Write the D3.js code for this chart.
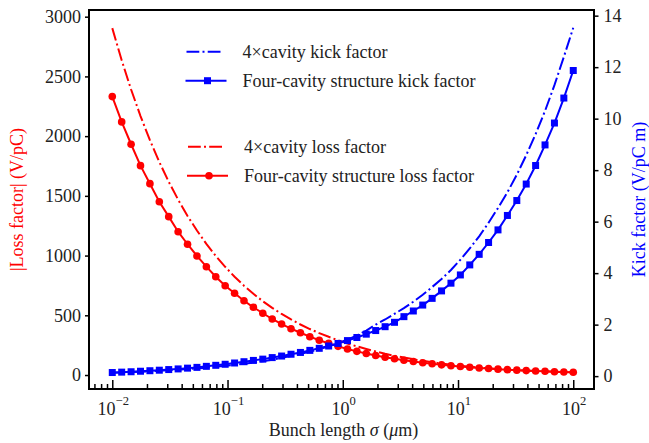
<!DOCTYPE html>
<html>
<head>
<meta charset="utf-8">
<script src="https://cdn.jsdelivr.net/npm/d3@7/dist/d3.min.js"></script>
<style>
  body { margin: 0; background: #fff; }
  text { font-family: "Liberation Serif", "Times New Roman", serif; }
</style>
</head>
<body>
<div id="chart"></div>
<script>
// bunch length values (um), 50 points log spaced 1e-2 .. 1e2
var sigma = [0.01, 0.012068, 0.014563, 0.017575, 0.021210, 0.025595, 0.030888, 0.037276, 0.044984, 0.054287,
  0.065513, 0.079060, 0.095410, 0.11514, 0.13895, 0.16768, 0.20236, 0.24421, 0.29471, 0.35565,
  0.42919, 0.51795, 0.62506, 0.75431, 0.91030, 1.0985, 1.3257, 1.5999, 1.9307, 2.3300,
  2.8118, 3.3932, 4.0949, 4.9417, 5.9636, 7.1969, 8.6851, 10.481, 12.649, 15.264,
  18.421, 22.230, 26.827, 32.375, 39.069, 47.149, 56.899, 68.665, 82.864, 100];

// |loss factor| (V/pC)
var lossStructure = [2331, 2119, 1932, 1753, 1602, 1451, 1326, 1200, 1095, 997,
  907, 823, 748, 684, 622, 567, 517, 469, 427, 388,
  354, 321, 291, 265, 240, 218, 198, 180, 164, 149,
  136, 124, 113, 103, 94, 85, 78, 71, 65, 59,
  54, 49, 45, 41, 37, 34, 31, 28, 25.5, 23];
var lossCavity = [2904, 2635, 2390, 2168, 1966, 1783, 1618, 1468, 1332, 1210,
  1098, 997, 906, 823, 748, 680, 618, 562, 511, 465,
  423, 385, 351, 320, 291, 264, 240, 218, 197, 178,
  161, 146, 132, 119, 107, 96, 86, 77, 69, 62,
  56, 50, 45, 40.5, 36.5, 33, 30, 27, 24.5, 22];

// kick factor (V/pC m)
var kickStructure = [0.14, 0.155, 0.17, 0.19, 0.21, 0.23, 0.255, 0.28, 0.31, 0.34,
  0.38, 0.42, 0.46, 0.51, 0.56, 0.61, 0.66, 0.72, 0.78, 0.85,
  0.92, 1.00, 1.08, 1.17, 1.27, 1.38, 1.50, 1.63, 1.77, 1.92,
  2.09, 2.31, 2.53, 2.76, 3.02, 3.31, 3.61, 3.93, 4.32, 4.73,
  5.19, 5.68, 6.24, 6.82, 7.46, 8.18, 8.98, 9.83, 10.8, 11.87];
var kickCavity = [0.13, 0.143, 0.157, 0.172, 0.19, 0.208, 0.228, 0.25, 0.275, 0.30,
  0.33, 0.365, 0.40, 0.44, 0.48, 0.53, 0.58, 0.64, 0.71, 0.78,
  0.86, 0.95, 1.05, 1.16, 1.28, 1.42, 1.58, 1.77, 2.0, 2.2,
  2.42, 2.64, 2.89, 3.16, 3.46, 3.77, 4.12, 4.52, 4.96, 5.43,
  5.96, 6.53, 7.14, 7.82, 8.58, 9.4, 10.3, 11.3, 12.4, 13.53];

var xTicks = [0.01, 0.1, 1, 10, 100];
var xTickExp = ["\u22122", "\u22121", "0", "1", "2"];
var lossTicks = [0, 500, 1000, 1500, 2000, 2500, 3000];
var kickTicks = [0, 2, 4, 6, 8, 10, 12, 14];

var legendKick = ["4\u00d7cavity kick factor", "Four-cavity structure kick factor"];
var legendLoss = ["4\u00d7cavity loss factor", "Four-cavity structure loss factor"];

var svgWidth = 649;
var svgHeight = 443;
var chartMargin = { top: 10, left: 89, right: 55, bottom: 54 };
var chartWidth = svgWidth - chartMargin.left - chartMargin.right;
var chartHeight = svgHeight - chartMargin.top - chartMargin.bottom;

var serif = '"Liberation Serif", "Times New Roman", serif';
var red = "#ff0000";
var blue = "#0000ff";
var dashDot = "12.8,3.2,2,3.2";

var svg = d3.select("#chart").append("svg")
  .attr("width", svgWidth)
  .attr("height", svgHeight)
  .style("font-family", serif);

var chartGroup = svg.append("g")
  .attr("transform", `translate(${chartMargin.left}, ${chartMargin.top})`);

// scales
var xScale = d3.scaleLog()
  .domain([Math.pow(10, -2.202), Math.pow(10, 2.18)])
  .range([0, chartWidth]);
var yLoss = d3.scaleLinear()
  .domain([-117, 3056])
  .range([chartHeight, 0]);
var yKick = d3.scaleLinear()
  .domain([-0.5, 14.22])
  .range([chartHeight, 0]);

// minor x ticks
var minorTicks = [];
[-3, -2, -1, 0, 1, 2].forEach(function(d) {
  for (var m = 2; m <= 9; m++) {
    var v = m * Math.pow(10, d);
    if (v > xScale.domain()[0] && v < xScale.domain()[1]) minorTicks.push(v);
  }
});

function styleAxis(g) {
  g.attr("font-family", null).style("font-family", serif);
  g.select(".domain").remove();
  g.selectAll(".tick line").attr("stroke", "#000").attr("stroke-width", 1.5);
  g.selectAll("text")
    .style("font-family", serif)
    .attr("font-size", 18)
    .attr("fill", "#222");
}

// x axis (ticks pointing inward)
chartGroup.append("g")
  .attr("transform", `translate(0, ${chartHeight})`)
  .call(d3.axisBottom(xScale).tickValues(minorTicks).tickSize(-5).tickFormat(""))
  .call(styleAxis);
chartGroup.append("g")
  .attr("transform", `translate(0, ${chartHeight})`)
  .call(d3.axisBottom(xScale).tickValues(xTicks).tickSize(-9).tickFormat(""))
  .call(styleAxis);

var xLabels = chartGroup.append("g").selectAll("text")
  .data(xTicks)
  .enter()
  .append("text")
  .attr("x", function(d) { return xScale(d) + 1; })
  .attr("y", chartHeight + 26)
  .attr("text-anchor", "middle")
  .attr("font-size", 18)
  .attr("fill", "#222")
  .style("font-family", serif);
xLabels.append("tspan").text("10");
xLabels.append("tspan")
  .attr("dy", -10.5)
  .attr("font-size", 12.6)
  .text(function(d, i) { return xTickExp[i]; });

// left y axis
chartGroup.append("g")
  .call(d3.axisLeft(yLoss).tickValues(lossTicks).tickSize(4).tickPadding(4).tickFormat(d3.format("d")))
  .call(styleAxis);

// right y axis
chartGroup.append("g")
  .attr("transform", `translate(${chartWidth}, 0)`)
  .call(d3.axisRight(yKick).tickValues(kickTicks).tickSize(4.5).tickPadding(5).tickFormat(d3.format("d")))
  .call(styleAxis);

// frame
chartGroup.append("rect")
  .attr("width", chartWidth)
  .attr("height", chartHeight)
  .attr("fill", "none")
  .attr("stroke", "#000")
  .attr("stroke-width", 2);

// axis titles
svg.append("text")
  .attr("transform", `translate(23, ${chartMargin.top + chartHeight / 2}) rotate(-90)`)
  .attr("text-anchor", "middle")
  .attr("font-size", 18)
  .attr("fill", red)
  .text("|Loss factor| (V/pC)");

svg.append("text")
  .attr("transform", `translate(645, ${chartMargin.top + chartHeight / 2}) rotate(-90)`)
  .attr("text-anchor", "middle")
  .attr("font-size", 18)
  .attr("fill", blue)
  .text("Kick factor (V/pC m)");

var xTitle = svg.append("text")
  .attr("x", chartMargin.left + chartWidth / 2 + 2)
  .attr("y", 436)
  .attr("text-anchor", "middle")
  .attr("font-size", 18)
  .attr("fill", "#222");
xTitle.append("tspan").text("Bunch length ");
xTitle.append("tspan").attr("font-style", "italic").text("\u03c3");
xTitle.append("tspan").text(" (");
xTitle.append("tspan").attr("font-style", "italic").text("\u03bc");
xTitle.append("tspan").text("m)");

// curves
var kickData = sigma.map(function(s, i) { return { s: s, st: kickStructure[i], cav: kickCavity[i] }; });
var lossData = sigma.map(function(s, i) { return { s: s, st: lossStructure[i], cav: lossCavity[i] }; });

var kickCavLine = d3.line().x(function(d) { return xScale(d.s); }).y(function(d) { return yKick(d.cav); });
var kickStLine = d3.line().x(function(d) { return xScale(d.s); }).y(function(d) { return yKick(d.st); });
var lossCavLine = d3.line().x(function(d) { return xScale(d.s); }).y(function(d) { return yLoss(d.cav); });
var lossStLine = d3.line().x(function(d) { return xScale(d.s); }).y(function(d) { return yLoss(d.st); });

// loss factor first (left axis), kick factor drawn on top (right axis)
chartGroup.append("path").datum(lossData)
  .attr("d", lossCavLine).attr("fill", "none")
  .attr("stroke", red).attr("stroke-width", 2).attr("stroke-dasharray", dashDot);
chartGroup.append("path").datum(lossData)
  .attr("d", lossStLine).attr("fill", "none")
  .attr("stroke", red).attr("stroke-width", 2);
chartGroup.append("g").selectAll("circle")
  .data(lossData)
  .enter()
  .append("circle")
  .attr("cx", function(d) { return xScale(d.s); })
  .attr("cy", function(d) { return yLoss(d.st); })
  .attr("r", 3.8)
  .attr("fill", red);

chartGroup.append("path").datum(kickData)
  .attr("d", kickCavLine).attr("fill", "none")
  .attr("stroke", blue).attr("stroke-width", 2).attr("stroke-dasharray", dashDot);
chartGroup.append("path").datum(kickData)
  .attr("d", kickStLine).attr("fill", "none")
  .attr("stroke", blue).attr("stroke-width", 2);
chartGroup.append("g").selectAll("rect")
  .data(kickData)
  .enter()
  .append("rect")
  .attr("x", function(d) { return xScale(d.s) - 3.5; })
  .attr("y", function(d) { return yKick(d.st) - 3.5; })
  .attr("width", 7)
  .attr("height", 7)
  .attr("fill", blue);

// legends
function drawLegend(x0, y0, labels, color, marker) {
  var g = svg.append("g").attr("transform", `translate(${x0}, ${y0})`);
  g.append("line")
    .attr("x1", 0).attr("x2", 37).attr("y1", 0).attr("y2", 0)
    .attr("stroke", color).attr("stroke-width", 2).attr("stroke-dasharray", dashDot);
  g.append("line")
    .attr("x1", -1).attr("x2", 40).attr("y1", 29).attr("y2", 29)
    .attr("stroke", color).attr("stroke-width", 2);
  if (marker == "square") {
    g.append("rect").attr("x", 21 - 3.5).attr("y", 29 - 3.5).attr("width", 7).attr("height", 7).attr("fill", color);
  } else {
    g.append("circle").attr("cx", 21).attr("cy", 29).attr("r", 3.8).attr("fill", color);
  }
  g.selectAll("text")
    .data(labels)
    .enter()
    .append("text")
    .attr("x", 56)
    .attr("y", function(d, i) { return 6.6 + i * 29; })
    .attr("font-size", 18)
    .attr("fill", "#222")
    .text(function(d) { return d; });
}
drawLegend(186.5, 51.7, legendKick, blue, "square");
drawLegend(188, 146.7, legendLoss, red, "circle");
</script>
</body>
</html>
